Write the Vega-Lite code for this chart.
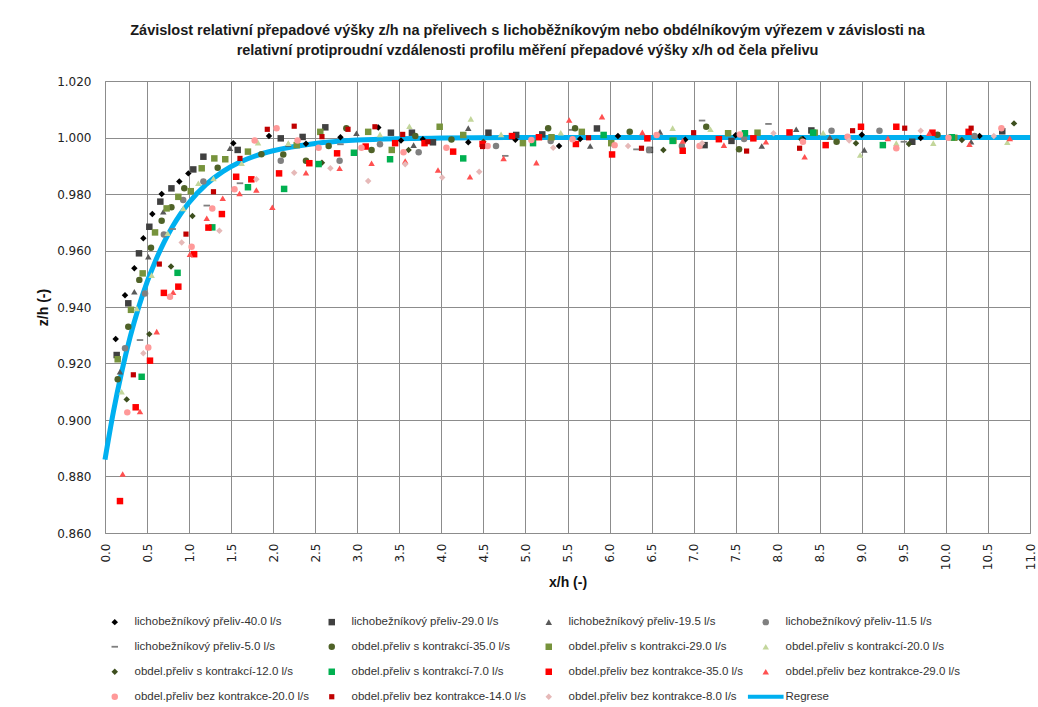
{
  "$schema": "https://vega.github.io/schema/vega-lite/v6.json",
  "width": 925,
  "height": 452,
  "autosize": {"type": "none"},
  "padding": {"left": 105, "top": 81, "right": 8, "bottom": 174},
  "background": "white",
  "config": {
    "view": {"stroke": "#8c8c8c", "strokeWidth": 1},
    "axis": {"gridColor": "#8c8c8c", "gridWidth": 1, "gridOpacity": 1, "domain": false, "ticks": false, "labelFont": "DejaVu Sans", "labelFontSize": 12, "labelColor": "#222222", "titleFont": "Liberation Sans", "titleFontSize": 14, "titleFontWeight": "bold", "titleColor": "#111111"}
  },
  "title": {
    "text": ["Závislost relativní přepadové výšky z/h na přelivech s lichoběžníkovým nebo obdélníkovým výřezem  v závislosti na", "relativní protiproudní vzdálenosti profilu měření přepadové výšky x/h od čela přelivu"],
    "font": "Liberation Sans", "fontSize": 14.5, "fontWeight": "bold", "color": "#1a1a1a",
    "anchor": "middle", "frame": "group", "dx": -40, "offset": 17, "lineHeight": 20
  },
  "datasets": {
    "names": [
      {"k": "A", "series": "lichobežníkový přeliv-40.0 l/s"},
      {"k": "B", "series": "lichobežníkový přeliv-29.0 l/s"},
      {"k": "C", "series": "lichobežníkový přeliv-19.5 l/s"},
      {"k": "D", "series": "lichobežníkový přeliv-11.5 l/s"},
      {"k": "E", "series": "lichobežníkový přeliv-5.0 l/s"},
      {"k": "F", "series": "obdel.přeliv s kontrakcí-35.0 l/s"},
      {"k": "G", "series": "obdel.přeliv s kontrakci-29.0 l/s"},
      {"k": "H", "series": "obdel.přeliv s kontrakcí-20.0 l/s"},
      {"k": "I", "series": "obdel.přeliv s kontrakcí-12.0 l/s"},
      {"k": "J", "series": "obdel.přeliv s kontrakcí-7.0 l/s"},
      {"k": "K", "series": "obdel.přeliv bez kontrakce-35.0 l/s"},
      {"k": "L", "series": "obdel.přeliv bez kontrakce-29.0 l/s"},
      {"k": "M", "series": "obdel.přeliv bez kontrakce-20.0 l/s"},
      {"k": "N", "series": "obdel.přeliv bez kontrakce-14.0 l/s"},
      {"k": "O", "series": "obdel.přeliv bez kontrakce-8.0 l/s"}
    ],
    "reg": [
      {"x": 0, "z": 0.886}, {"x": 0.1, "z": 0.9029}, {"x": 0.2, "z": 0.9172}, {"x": 0.3, "z": 0.9295},
      {"x": 0.4, "z": 0.9399}, {"x": 0.5, "z": 0.9488}, {"x": 0.6, "z": 0.9563}, {"x": 0.7, "z": 0.9628},
      {"x": 0.8, "z": 0.9683}, {"x": 0.9, "z": 0.973}, {"x": 1.0, "z": 0.977}, {"x": 1.2, "z": 0.9833},
      {"x": 1.4, "z": 0.9879}, {"x": 1.6, "z": 0.9912}, {"x": 1.8, "z": 0.9936}, {"x": 2.0, "z": 0.9953},
      {"x": 2.5, "z": 0.9979}, {"x": 3.0, "z": 0.9991}, {"x": 3.5, "z": 0.9996}, {"x": 4.0, "z": 0.9998},
      {"x": 5.0, "z": 1.0}, {"x": 7.0, "z": 1.0}, {"x": 9.0, "z": 1.0}, {"x": 11.0, "z": 1.0}
    ],
    "pts": [
      {"k": "A", "x": 0.127, "z": 0.9287}, {"k": "A", "x": 0.238, "z": 0.9442}, {"k": "A", "x": 0.349, "z": 0.9537}, {"k": "A", "x": 0.456, "z": 0.9643}, {"k": "A", "x": 0.563, "z": 0.9729}, {"k": "A", "x": 0.674, "z": 0.98}, {"k": "A", "x": 0.884, "z": 0.9844}, {"k": "A", "x": 0.991, "z": 0.9873}, {"k": "A", "x": 1.526, "z": 0.998}, {"k": "A", "x": 1.95, "z": 1.0005}, {"k": "A", "x": 2.39, "z": 0.9978}, {"k": "A", "x": 2.8, "z": 1.0001}, {"k": "A", "x": 3.25, "z": 1.0035}, {"k": "A", "x": 3.52, "z": 0.9989}, {"k": "A", "x": 3.78, "z": 0.9994}, {"k": "A", "x": 4.32, "z": 0.9983}, {"k": "A", "x": 4.88, "z": 0.9992}, {"k": "A", "x": 5.4, "z": 0.997}, {"k": "A", "x": 5.65, "z": 0.9995}, {"k": "A", "x": 6.1, "z": 1.0005}, {"k": "A", "x": 6.9, "z": 0.9992}, {"k": "A", "x": 7.5, "z": 1.0008}, {"k": "A", "x": 8.3, "z": 0.9995}, {"k": "A", "x": 9.0, "z": 1.001}, {"k": "A", "x": 9.7, "z": 0.9998}, {"k": "A", "x": 10.4, "z": 1.0005},
      {"k": "B", "x": 0.139, "z": 0.923}, {"k": "B", "x": 0.277, "z": 0.9413}, {"k": "B", "x": 0.404, "z": 0.959}, {"k": "B", "x": 0.527, "z": 0.9684}, {"k": "B", "x": 0.658, "z": 0.9773}, {"k": "B", "x": 0.79, "z": 0.982}, {"k": "B", "x": 1.05, "z": 0.9887}, {"k": "B", "x": 1.17, "z": 0.9932}, {"k": "B", "x": 1.578, "z": 0.9956}, {"k": "B", "x": 2.09, "z": 0.9997}, {"k": "B", "x": 2.35, "z": 1.0002}, {"k": "B", "x": 2.62, "z": 1.0036}, {"k": "B", "x": 3.4, "z": 1.0017}, {"k": "B", "x": 3.65, "z": 1.0017}, {"k": "B", "x": 3.9, "z": 0.9983}, {"k": "B", "x": 4.56, "z": 1.0017}, {"k": "B", "x": 4.89, "z": 1.0009}, {"k": "B", "x": 5.2, "z": 1.0011}, {"k": "B", "x": 5.85, "z": 1.0032}, {"k": "B", "x": 6.48, "z": 0.9956}, {"k": "B", "x": 7.13, "z": 0.9973}, {"k": "B", "x": 7.45, "z": 0.9988}, {"k": "B", "x": 8.4, "z": 1.0025}, {"k": "B", "x": 9.6, "z": 0.9985}, {"k": "B", "x": 10.67, "z": 1.0022},
      {"k": "C", "x": 0.178, "z": 0.9171}, {"k": "C", "x": 0.349, "z": 0.9454}, {"k": "C", "x": 0.515, "z": 0.9578}, {"k": "C", "x": 0.693, "z": 0.9737}, {"k": "C", "x": 1.486, "z": 0.9962}, {"k": "C", "x": 2.18, "z": 0.9977}, {"k": "C", "x": 2.99, "z": 1.0015}, {"k": "C", "x": 3.67, "z": 0.9973}, {"k": "C", "x": 4.32, "z": 1.0033}, {"k": "C", "x": 5.77, "z": 0.997}, {"k": "C", "x": 6.6, "z": 1.002}, {"k": "C", "x": 7.81, "z": 0.997}, {"k": "C", "x": 8.22, "z": 1.0029}, {"k": "C", "x": 8.62, "z": 1.0001}, {"k": "C", "x": 9.03, "z": 0.9956}, {"k": "C", "x": 9.81, "z": 1.0015}, {"k": "C", "x": 10.3, "z": 0.9985},
      {"k": "D", "x": 0.238, "z": 0.9254}, {"k": "D", "x": 0.476, "z": 0.9448}, {"k": "D", "x": 0.7, "z": 0.9657}, {"k": "D", "x": 0.93, "z": 0.9779}, {"k": "D", "x": 1.17, "z": 0.9844}, {"k": "D", "x": 2.09, "z": 0.9918}, {"k": "D", "x": 2.79, "z": 0.9918}, {"k": "D", "x": 3.27, "z": 0.9976}, {"k": "D", "x": 3.73, "z": 0.9948}, {"k": "D", "x": 4.65, "z": 0.997}, {"k": "D", "x": 5.3, "z": 0.9988}, {"k": "D", "x": 6.47, "z": 0.9956}, {"k": "D", "x": 6.86, "z": 0.997}, {"k": "D", "x": 7.6, "z": 0.9995}, {"k": "D", "x": 8.64, "z": 1.0024}, {"k": "D", "x": 9.21, "z": 1.0024}, {"k": "D", "x": 10.34, "z": 1.0005},
      {"k": "E", "x": 0.416, "z": 0.9283}, {"k": "E", "x": 0.805, "z": 0.9676}, {"k": "E", "x": 1.21, "z": 0.9759}, {"k": "E", "x": 1.605, "z": 0.9838}, {"k": "E", "x": 2.8, "z": 0.9976}, {"k": "E", "x": 4.76, "z": 0.9935}, {"k": "E", "x": 5.55, "z": 1.0027}, {"k": "E", "x": 6.32, "z": 0.9958}, {"k": "E", "x": 7.1, "z": 1.006}, {"k": "E", "x": 7.89, "z": 1.0048}, {"k": "E", "x": 9.5, "z": 0.9985},
      {"k": "F", "x": 0.151, "z": 0.9144}, {"k": "F", "x": 0.277, "z": 0.933}, {"k": "F", "x": 0.408, "z": 0.9496}, {"k": "F", "x": 0.547, "z": 0.961}, {"k": "F", "x": 0.674, "z": 0.9705}, {"k": "F", "x": 0.79, "z": 0.9753}, {"k": "F", "x": 0.943, "z": 0.982}, {"k": "F", "x": 1.34, "z": 0.9893}, {"k": "F", "x": 1.86, "z": 0.9941}, {"k": "F", "x": 2.12, "z": 0.994}, {"k": "F", "x": 2.39, "z": 0.9918}, {"k": "F", "x": 2.66, "z": 0.997}, {"k": "F", "x": 2.87, "z": 1.0033}, {"k": "F", "x": 3.17, "z": 0.9956}, {"k": "F", "x": 3.69, "z": 1.0005}, {"k": "F", "x": 4.12, "z": 0.9993}, {"k": "F", "x": 5.27, "z": 1.0033}, {"k": "F", "x": 5.59, "z": 1.0033}, {"k": "F", "x": 6.24, "z": 1.002}, {"k": "F", "x": 7.15, "z": 1.0038}, {"k": "F", "x": 7.54, "z": 0.9958}, {"k": "F", "x": 8.7, "z": 0.9985}, {"k": "F", "x": 9.9, "z": 1.001},
      {"k": "G", "x": 0.151, "z": 0.9215}, {"k": "G", "x": 0.309, "z": 0.939}, {"k": "G", "x": 0.448, "z": 0.9519}, {"k": "G", "x": 0.595, "z": 0.9664}, {"k": "G", "x": 0.733, "z": 0.9749}, {"k": "G", "x": 0.872, "z": 0.979}, {"k": "G", "x": 1.02, "z": 0.981}, {"k": "G", "x": 1.15, "z": 0.9891}, {"k": "G", "x": 1.3, "z": 0.9926}, {"k": "G", "x": 1.43, "z": 0.9923}, {"k": "G", "x": 1.7, "z": 0.995}, {"k": "G", "x": 2.28, "z": 0.9973}, {"k": "G", "x": 2.56, "z": 1.002}, {"k": "G", "x": 3.13, "z": 1.002}, {"k": "G", "x": 3.41, "z": 0.9956}, {"k": "G", "x": 3.98, "z": 1.0038}, {"k": "G", "x": 4.26, "z": 1.0009}, {"k": "G", "x": 4.97, "z": 0.998}, {"k": "G", "x": 5.31, "z": 1.0001}, {"k": "G", "x": 5.67, "z": 1.002}, {"k": "G", "x": 6.02, "z": 0.998}, {"k": "G", "x": 6.76, "z": 0.9989}, {"k": "G", "x": 7.41, "z": 1.0015}, {"k": "G", "x": 7.76, "z": 1.0017}, {"k": "G", "x": 8.44, "z": 1.0017}, {"k": "G", "x": 10.1, "z": 0.9999},
      {"k": "H", "x": 0.198, "z": 0.91}, {"k": "H", "x": 0.377, "z": 0.9395}, {"k": "H", "x": 0.555, "z": 0.9513}, {"k": "H", "x": 0.745, "z": 0.9661}, {"k": "H", "x": 0.931, "z": 0.9749}, {"k": "H", "x": 1.11, "z": 0.9838}, {"k": "H", "x": 1.29, "z": 0.9855}, {"k": "H", "x": 1.625, "z": 0.9909}, {"k": "H", "x": 1.82, "z": 0.9982}, {"k": "H", "x": 2.18, "z": 0.998}, {"k": "H", "x": 3.27, "z": 1.0011}, {"k": "H", "x": 3.62, "z": 1.004}, {"k": "H", "x": 4.35, "z": 1.0066}, {"k": "H", "x": 4.71, "z": 1.0011}, {"k": "H", "x": 5.42, "z": 1.0017}, {"k": "H", "x": 6.75, "z": 1.0033}, {"k": "H", "x": 7.2, "z": 1.0029}, {"k": "H", "x": 8.54, "z": 1.0017}, {"k": "H", "x": 8.98, "z": 0.9938}, {"k": "H", "x": 9.41, "z": 0.998}, {"k": "H", "x": 9.85, "z": 0.998}, {"k": "H", "x": 10.73, "z": 0.9983},
      {"k": "I", "x": 0.258, "z": 0.9073}, {"k": "I", "x": 0.527, "z": 0.9304}, {"k": "I", "x": 0.785, "z": 0.9543}, {"k": "I", "x": 1.04, "z": 0.9722}, {"k": "I", "x": 2.58, "z": 0.9911}, {"k": "I", "x": 3.61, "z": 0.9956}, {"k": "I", "x": 4.5, "z": 0.9985}, {"k": "I", "x": 6.64, "z": 0.9956}, {"k": "I", "x": 8.28, "z": 0.9994}, {"k": "I", "x": 8.93, "z": 0.998}, {"k": "I", "x": 9.56, "z": 0.9977}, {"k": "I", "x": 10.19, "z": 0.9991}, {"k": "I", "x": 10.81, "z": 1.005},
      {"k": "J", "x": 0.436, "z": 0.9153}, {"k": "J", "x": 0.863, "z": 0.9521}, {"k": "J", "x": 1.276, "z": 0.9682}, {"k": "J", "x": 1.7, "z": 0.9824}, {"k": "J", "x": 2.13, "z": 0.9818}, {"k": "J", "x": 2.54, "z": 0.9906}, {"k": "J", "x": 2.96, "z": 0.9946}, {"k": "J", "x": 3.39, "z": 0.9923}, {"k": "J", "x": 4.26, "z": 0.9926}, {"k": "J", "x": 5.09, "z": 0.998}, {"k": "J", "x": 5.93, "z": 1.0009}, {"k": "J", "x": 6.75, "z": 0.9988}, {"k": "J", "x": 7.61, "z": 1.0015}, {"k": "J", "x": 8.42, "z": 1.0017}, {"k": "J", "x": 9.25, "z": 0.9973}, {"k": "J", "x": 10.07, "z": 1.0001},
      {"k": "K", "x": 0.178, "z": 0.8713}, {"k": "K", "x": 0.365, "z": 0.9045}, {"k": "K", "x": 0.535, "z": 0.921}, {"k": "K", "x": 0.7, "z": 0.945}, {"k": "K", "x": 0.872, "z": 0.9472}, {"k": "K", "x": 1.06, "z": 0.9587}, {"k": "K", "x": 1.23, "z": 0.9681}, {"k": "K", "x": 1.39, "z": 0.9729}, {"k": "K", "x": 1.56, "z": 0.9861}, {"k": "K", "x": 1.74, "z": 0.9852}, {"k": "K", "x": 2.07, "z": 0.9873}, {"k": "K", "x": 2.43, "z": 0.9909}, {"k": "K", "x": 2.76, "z": 0.9944}, {"k": "K", "x": 3.1, "z": 0.9968}, {"k": "K", "x": 3.45, "z": 0.998}, {"k": "K", "x": 3.8, "z": 0.998}, {"k": "K", "x": 4.14, "z": 0.995}, {"k": "K", "x": 4.49, "z": 0.9977}, {"k": "K", "x": 4.84, "z": 1.0005}, {"k": "K", "x": 5.16, "z": 1.0001}, {"k": "K", "x": 5.6, "z": 0.9977}, {"k": "K", "x": 6.03, "z": 0.994}, {"k": "K", "x": 6.45, "z": 0.9997}, {"k": "K", "x": 6.87, "z": 0.9953}, {"k": "K", "x": 7.3, "z": 0.9994}, {"k": "K", "x": 7.71, "z": 0.9997}, {"k": "K", "x": 8.14, "z": 1.0018}, {"k": "K", "x": 8.57, "z": 0.9973}, {"k": "K", "x": 8.99, "z": 1.0038}, {"k": "K", "x": 9.41, "z": 1.0038}, {"k": "K", "x": 9.84, "z": 1.0017}, {"k": "K", "x": 10.27, "z": 1.002},
      {"k": "L", "x": 0.21, "z": 0.8809}, {"k": "L", "x": 0.416, "z": 0.903}, {"k": "L", "x": 0.615, "z": 0.9313}, {"k": "L", "x": 0.81, "z": 0.9452}, {"k": "L", "x": 1.01, "z": 0.9587}, {"k": "L", "x": 1.21, "z": 0.9714}, {"k": "L", "x": 1.4, "z": 0.9785}, {"k": "L", "x": 1.6, "z": 0.9802}, {"k": "L", "x": 1.8, "z": 0.9814}, {"k": "L", "x": 1.99, "z": 0.9753}, {"k": "L", "x": 2.39, "z": 0.9875}, {"k": "L", "x": 2.79, "z": 0.9891}, {"k": "L", "x": 3.17, "z": 0.9909}, {"k": "L", "x": 3.57, "z": 0.9917}, {"k": "L", "x": 3.96, "z": 0.9885}, {"k": "L", "x": 4.34, "z": 0.9861}, {"k": "L", "x": 4.74, "z": 0.9926}, {"k": "L", "x": 5.13, "z": 0.9911}, {"k": "L", "x": 5.52, "z": 1.0062}, {"k": "L", "x": 5.91, "z": 1.0074}, {"k": "L", "x": 6.39, "z": 1.0018}, {"k": "L", "x": 6.87, "z": 0.9988}, {"k": "L", "x": 7.36, "z": 0.9973}, {"k": "L", "x": 7.86, "z": 0.9985}, {"k": "L", "x": 8.32, "z": 0.9932}, {"k": "L", "x": 9.31, "z": 0.9997}, {"k": "L", "x": 9.8, "z": 1.0015}, {"k": "L", "x": 10.28, "z": 0.9976}, {"k": "L", "x": 10.76, "z": 0.9997},
      {"k": "M", "x": 0.265, "z": 0.9027}, {"k": "M", "x": 0.515, "z": 0.9257}, {"k": "M", "x": 0.773, "z": 0.9436}, {"k": "M", "x": 1.03, "z": 0.9613}, {"k": "M", "x": 1.276, "z": 0.9749}, {"k": "M", "x": 1.54, "z": 0.9817}, {"k": "M", "x": 1.78, "z": 0.9989}, {"k": "M", "x": 2.04, "z": 1.0033}, {"k": "M", "x": 2.29, "z": 0.9989}, {"k": "M", "x": 2.54, "z": 0.9964}, {"k": "M", "x": 3.05, "z": 0.9964}, {"k": "M", "x": 3.55, "z": 0.9948}, {"k": "M", "x": 4.06, "z": 0.9964}, {"k": "M", "x": 4.55, "z": 0.997}, {"k": "M", "x": 5.07, "z": 0.9991}, {"k": "M", "x": 5.56, "z": 0.9994}, {"k": "M", "x": 6.06, "z": 0.9973}, {"k": "M", "x": 6.56, "z": 1.0009}, {"k": "M", "x": 7.07, "z": 0.997}, {"k": "M", "x": 7.55, "z": 1.0011}, {"k": "M", "x": 8.3, "z": 0.9985}, {"k": "M", "x": 8.83, "z": 1.0003}, {"k": "M", "x": 9.41, "z": 0.9962}, {"k": "M", "x": 10.03, "z": 0.9999}, {"k": "M", "x": 10.66, "z": 1.0033},
      {"k": "N", "x": 0.337, "z": 0.916}, {"k": "N", "x": 0.646, "z": 0.9552}, {"k": "N", "x": 0.963, "z": 0.9658}, {"k": "N", "x": 1.29, "z": 0.9808}, {"k": "N", "x": 1.605, "z": 0.9926}, {"k": "N", "x": 1.93, "z": 1.0029}, {"k": "N", "x": 2.25, "z": 1.004}, {"k": "N", "x": 2.58, "z": 1.0003}, {"k": "N", "x": 2.89, "z": 1.0029}, {"k": "N", "x": 3.21, "z": 1.0038}, {"k": "N", "x": 3.54, "z": 1.0011}, {"k": "N", "x": 3.84, "z": 0.9985}, {"k": "N", "x": 4.49, "z": 0.9968}, {"k": "N", "x": 5.75, "z": 0.9999}, {"k": "N", "x": 6.38, "z": 0.9962}, {"k": "N", "x": 7.0, "z": 1.0017}, {"k": "N", "x": 7.63, "z": 0.9952}, {"k": "N", "x": 8.26, "z": 0.9962}, {"k": "N", "x": 8.89, "z": 1.0024}, {"k": "N", "x": 9.51, "z": 1.0033}, {"k": "N", "x": 10.3, "z": 1.0033},
      {"k": "O", "x": 0.456, "z": 0.9236}, {"k": "O", "x": 0.912, "z": 0.9628}, {"k": "O", "x": 1.36, "z": 0.967}, {"k": "O", "x": 1.8, "z": 0.9852}, {"k": "O", "x": 2.25, "z": 0.9875}, {"k": "O", "x": 2.68, "z": 0.9891}, {"k": "O", "x": 3.13, "z": 0.9846}, {"k": "O", "x": 3.57, "z": 0.9905}, {"k": "O", "x": 4.01, "z": 0.9858}, {"k": "O", "x": 4.45, "z": 0.9879}, {"k": "O", "x": 5.33, "z": 0.9964}, {"k": "O", "x": 6.22, "z": 0.997}, {"k": "O", "x": 7.1, "z": 0.998}, {"k": "O", "x": 7.95, "z": 1.0015}, {"k": "O", "x": 8.85, "z": 0.9989}, {"k": "O", "x": 9.7, "z": 1.0024}, {"k": "O", "x": 10.57, "z": 1.0005}
    ]
  },
  "layer": [
    {
      "data": {"name": "reg"},
      "mark": {"type": "line", "color": "#00B0F0", "strokeWidth": 5, "interpolate": "monotone"},
      "encoding": {
        "x": {"field": "x", "type": "quantitative", "scale": {"domain": [0, 11], "nice": false, "zero": false},
              "axis": {"title": "x/h (-)", "values": [0,0.5,1,1.5,2,2.5,3,3.5,4,4.5,5,5.5,6,6.5,7,7.5,8,8.5,9,9.5,10,10.5,11], "format": ".1f", "labelAngle": -90, "labelPadding": 10, "titlePadding": 6}},
        "y": {"field": "z", "type": "quantitative", "scale": {"domain": [0.86, 1.02], "nice": false, "zero": false},
              "axis": {"title": "z/h (-)", "values": [0.86,0.88,0.9,0.92,0.94,0.96,0.98,1.0,1.02], "format": ".3f", "labelPadding": 14, "titlePadding": 6}}
      }
    },
    {
      "data": {"name": "pts"},
      "transform": [{"lookup": "k", "from": {"data": {"name": "names"}, "key": "k", "fields": ["series"]}}],
      "mark": {"type": "point", "filled": true, "opacity": 1, "size": 42},
      "encoding": {
        "x": {"field": "x", "type": "quantitative"},
        "y": {"field": "z", "type": "quantitative"},
        "color": {
          "field": "series", "type": "nominal",
          "scale": {
            "domain": ["lichobežníkový přeliv-40.0 l/s", "lichobežníkový přeliv-29.0 l/s", "lichobežníkový přeliv-19.5 l/s", "lichobežníkový přeliv-11.5 l/s", "lichobežníkový přeliv-5.0 l/s", "obdel.přeliv s kontrakcí-35.0 l/s", "obdel.přeliv s kontrakci-29.0 l/s", "obdel.přeliv s kontrakcí-20.0 l/s", "obdel.přeliv s kontrakcí-12.0 l/s", "obdel.přeliv s kontrakcí-7.0 l/s", "obdel.přeliv bez kontrakce-35.0 l/s", "obdel.přeliv bez kontrakce-29.0 l/s", "obdel.přeliv bez kontrakce-20.0 l/s", "obdel.přeliv bez kontrakce-14.0 l/s", "obdel.přeliv bez kontrakce-8.0 l/s", "Regrese"],
            "range": ["#000000", "#404040", "#595959", "#808080", "#7f7f7f", "#4f6228", "#77933c", "#c3d69b", "#3d4f1e", "#00b050", "#ff0000", "#ff5050", "#ff9999", "#c00000", "#e6b9b8", "#00b0f0"]
          },
          "legend": {
            "title": null, "orient": "none", "direction": "horizontal", "legendX": 4, "legendY": 535, "columns": 4, "gridAlign": "all",
            "columnPadding": 3, "rowPadding": 12, "labelFont": "Liberation Sans", "labelFontSize": 11.5, "labelColor": "#333333",
            "symbolSize": 42, "labelOffset": 14, "symbolStrokeWidth": 0, "labelLimit": 300
          }
        },
        "shape": {
          "field": "series", "type": "nominal",
          "scale": {
            "domain": ["lichobežníkový přeliv-40.0 l/s", "lichobežníkový přeliv-29.0 l/s", "lichobežníkový přeliv-19.5 l/s", "lichobežníkový přeliv-11.5 l/s", "lichobežníkový přeliv-5.0 l/s", "obdel.přeliv s kontrakcí-35.0 l/s", "obdel.přeliv s kontrakci-29.0 l/s", "obdel.přeliv s kontrakcí-20.0 l/s", "obdel.přeliv s kontrakcí-12.0 l/s", "obdel.přeliv s kontrakcí-7.0 l/s", "obdel.přeliv bez kontrakce-35.0 l/s", "obdel.přeliv bez kontrakce-29.0 l/s", "obdel.přeliv bez kontrakce-20.0 l/s", "obdel.přeliv bez kontrakce-14.0 l/s", "obdel.přeliv bez kontrakce-8.0 l/s", "Regrese"],
            "range": ["diamond", "square", "triangle-up", "circle", "M-1,-0.28H1V0.28H-1Z", "circle", "square", "triangle-up", "diamond", "square", "square", "triangle-up", "circle", "M-0.8,-0.8H0.8V0.8H-0.8Z", "diamond", "M-5.5,-0.6H5.5V0.6H-5.5Z"]
          }
        }
      }
    }
  ]
}
